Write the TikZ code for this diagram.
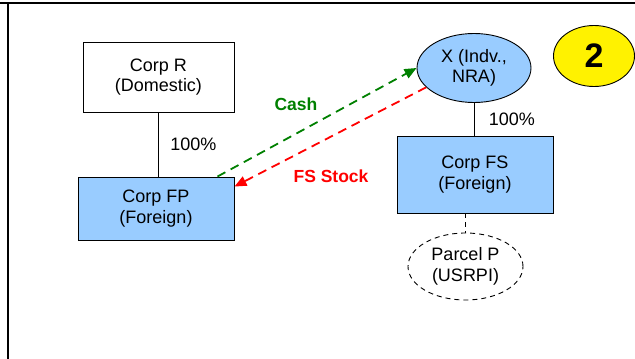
\documentclass[tikz,border=0pt]{standalone}
\usepackage{fontspec}
\setmainfont{Liberation Sans}
\usetikzlibrary{shapes.geometric,arrows.meta}
\definecolor{corpblue}{HTML}{99CCFF}
\definecolor{cashgreen}{HTML}{008000}
\begin{document}
\begin{tikzpicture}[x=1pt,y=-1pt,
  font=\fontsize{18}{20.5}\selectfont,
  corp/.style={draw, line width=0.9pt, align=center, inner sep=0pt},
  owner/.style={draw, ellipse, line width=0.9pt, align=center, inner sep=0pt, fill=corpblue},
  flow/.style={line width=1.8pt, dash pattern=on 9pt off 6pt, -{Triangle[length=12pt,width=10pt]}}]
  \useasboundingbox (0,0) rectangle (635,359);
  % Frame lines (top and left)
  \draw[line width=2pt] (0,3) -- (635,3);
  \draw[line width=2pt] (8,3) -- (8,359);

  % Corporations
  \node[corp, minimum width=151, minimum height=70] (R) at (158.5,77) {Corp R\\(Domestic)};
  \node[corp, fill=corpblue, minimum width=156, minimum height=63] (FP) at (156,208.5) {Corp FP\\(Foreign)};
  \node[corp, fill=corpblue, minimum width=156, minimum height=77] (FS) at (475,174.5) {Corp FS\\(Foreign)};

  % Individual and the parcel
  \node[owner, minimum width=114, minimum height=69] (X) at (474,68) {X (Indv.,\\NRA)};
  \node[draw, ellipse, dash pattern=on 5pt off 4pt, line width=0.9pt, align=center, inner sep=0pt,
        minimum width=115, minimum height=67] (P) at (465.5,266.5) {Parcel P\\(USRPI)};

  % Step number
  \node[draw, ellipse, line width=0.9pt, fill=yellow, minimum width=81, minimum height=61,
        font=\fontsize{34}{34}\bfseries] (num) at (594,56) {2};

  % Ownership lines
  \draw[line width=0.9pt] (R.south) -- (R.south |- FP.north) node[midway, right=8pt] {100\%};
  \draw[line width=0.9pt] (X.south) -- (X.south |- FS.north) node[midway, right=11pt] {100\%};
  \draw[line width=0.9pt, dash pattern=on 5pt off 4pt] (P.north |- FS.south) -- (P.north);

  % Exchange
  \draw[flow, cashgreen] ([xshift=-17pt]FP.north east) -- (X.west);
  \draw[flow, red] (X.202) -- ([yshift=-10pt]FP.north east);
  \node[text=cashgreen, font=\fontsize{17.5}{20}\bfseries] (cash) at (296,104) {Cash};
  \node[text=red, font=\fontsize{17.5}{20}\bfseries] (stock) at (331,176) {FS Stock};
\end{tikzpicture}
\end{document}
